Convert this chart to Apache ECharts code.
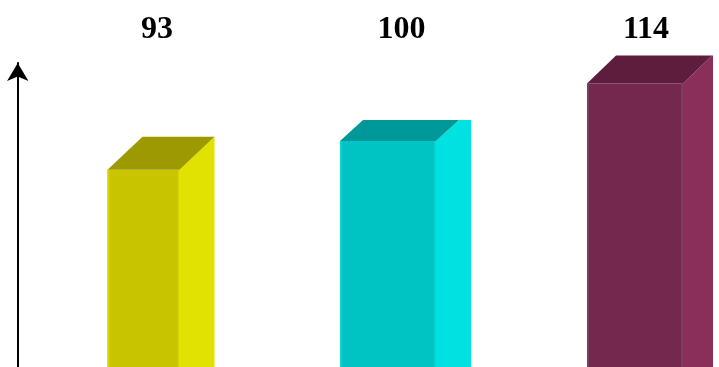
<!DOCTYPE html>
<html>
<head>
<meta charset="utf-8">
<script src="https://cdn.jsdelivr.net/npm/echarts@6/dist/echarts.min.js"></script>
<style>
  html, body { margin: 0; padding: 0; background: #fff; }
  #chart { width: 719px; height: 367px; }
</style>
</head>
<body>
<div id="chart"></div>
<script>
// Data
const categories = ['Group 1', 'Group 2', 'Group 3'];
const values = [93, 100, 114];

// Value axis range
const yMin = 45;
const yMax = 119;

// Per-bar box styling: face colours and 3D geometry (px)
const frontColors = ['#c8c400', '#00c4c4', '#74284d'];
const sideColors  = ['#e2e200', '#00e2e2', '#8a2e5a'];
const topColors   = ['#9c9a00', '#009898', '#5e1d3d'];
const edgeColors  = ['#d6d300', '#10d0d0', '#7e3d5e'];
const frontWidths = [72, 96, 96];
const sideWidths  = [35, 35, 30];
const depthX      = [35, 23, 29];
const depthY      = [33, 21, 28];
const labelY = 30;

function renderBox(params, api) {
  const i = api.value(0);
  const v = api.value(1);
  const topPt = api.coord([i, v]);
  const basePt = api.coord([i, yMin]);
  const fw = frontWidths[i], sw = sideWidths[i];
  const dx = depthX[i], dy = depthY[i];
  const left = topPt[0] - (fw + sw) / 2;
  const x1 = left + fw;
  const yTop = topPt[1];
  const yBot = basePt[1];
  return {
    type: 'group',
    children: [
      { type: 'rect', shape: { x: left, y: yTop, width: fw, height: yBot - yTop },
        style: { fill: frontColors[i] } },
      { type: 'rect', shape: { x: left, y: yTop, width: 2, height: yBot - yTop },
        style: { fill: edgeColors[i] } },
      { type: 'rect', shape: { x: x1 - 2, y: yTop, width: 2, height: yBot - yTop },
        style: { fill: edgeColors[i] } },
      { type: 'polygon', shape: { points: [
          [x1, yTop], [x1 + dx, yTop - dy], [x1 + sw, yTop - dy], [x1 + sw, yBot], [x1, yBot]
        ] }, style: { fill: sideColors[i] } },
      { type: 'polygon', shape: { points: [
          [left, yTop], [left + dx, yTop - dy], [x1 + dx, yTop - dy], [x1, yTop]
        ] }, style: { fill: topColors[i] } },
      { type: 'text', style: {
          text: String(v), x: left + (fw + sw) / 2 - 4, y: labelY,
          align: 'center', verticalAlign: 'middle',
          fontFamily: '"Liberation Serif", "Times New Roman", serif',
          fontWeight: 'bold', fontSize: 32, fill: '#000'
        } }
    ]
  };
}

const chart = echarts.init(document.getElementById('chart'));
chart.setOption({
  animation: false,
  grid: { left: 38.75, width: 733.5, top: 63, bottom: 0, outerBoundsMode: 'none' },
  xAxis: {
    type: 'category', data: categories,
    axisLine: { show: false }, axisTick: { show: false }, axisLabel: { show: false }
  },
  yAxis: {
    type: 'value', min: yMin, max: yMax, offset: 21,
    axisLine: { show: true, symbol: ['none', 'arrow'], symbolSize: [16, 18],
      lineStyle: { color: '#000', width: 2 } },
    axisTick: { show: false }, axisLabel: { show: false }, splitLine: { show: false }
  },
  series: [{
    type: 'custom',
    renderItem: renderBox,
    data: values.map((v, i) => [i, v])
  }]
});
</script>
</body>
</html>
